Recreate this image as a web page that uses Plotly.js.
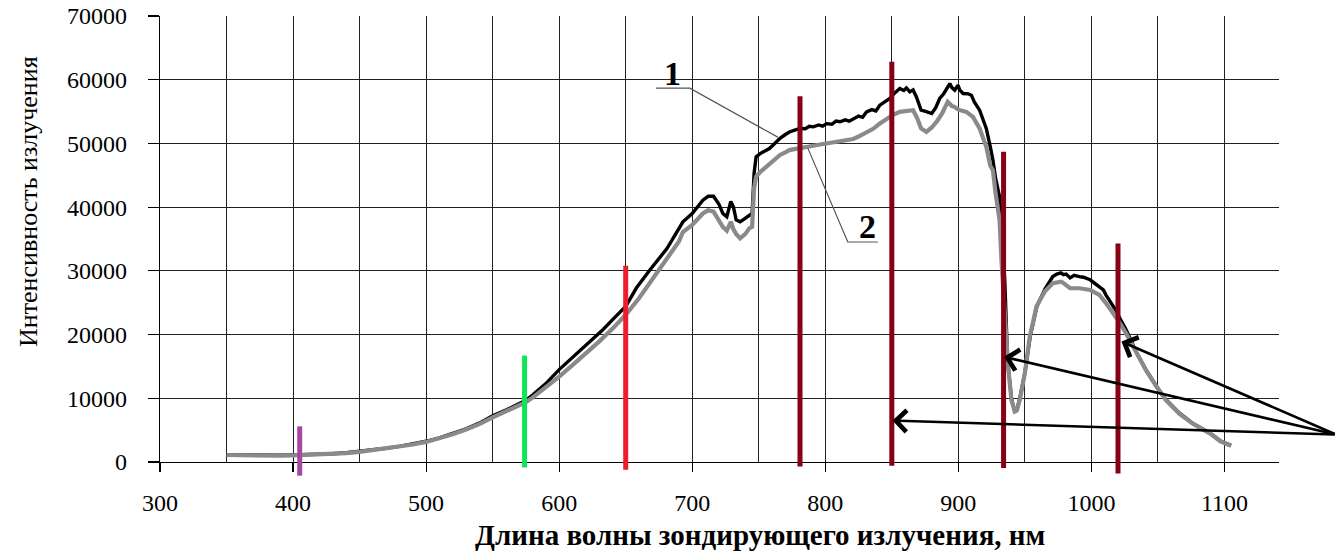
<!DOCTYPE html>
<html><head><meta charset="utf-8">
<script src="https://cdn.plot.ly/plotly-3.0.1.min.js"></script>
<style>html,body{margin:0;padding:0;background:#fff}#chart{width:1336px;height:552px}</style>
</head><body><div id="chart"></div>
<script>
// Curve 1 (black)
const wavelength1 = [350,360,370,380,390,400,410,420,430,440,450,460,470,480,490,500,510,520,530,540,550,560,570,575,580,590,600,610,618,625,633,640,650,658,668,681,693,700,708,712,716,720,723,726,729,731,733,736,740,743,745,746.5,748,751,755,758,762,766,770,773,777,781,785,788,791,795,798,801,805,808,811,815,818,821,825,828,831,835,838,841,845,848.5,852,856,859,861,863.5,866,868.5,870,872,876,880,883,886,889,891,893.6,895,897.3,899.8,901,903.6,907,909.8,912,916,918,921,924,926,928,931,933,935,937,940,942.5,944,946,950,954,959,965,968,971,974,977,979,981,984,987,991,994,999,1003,1006,1009,1011,1015,1019,1022,1026,1030,1034,1041,1049,1056,1066,1076,1089,1097,1105];
const intensity1 = [1150,1100,1050,1000,1050,1100,1150,1200,1300,1450,1650,1900,2150,2450,2800,3250,3800,4450,5200,6100,7250,8150,9200,9700,10500,12300,14500,16400,17900,19300,20800,22300,24400,27300,30100,33500,37700,39000,41100,41700,41700,40500,39000,38500,40900,40000,38000,37700,38300,38700,39000,45300,47900,48400,48800,49200,50000,50800,51400,51800,52100,52350,52300,52700,52600,52900,52700,53100,53000,53500,53400,53700,53500,53900,54300,54100,54950,55300,55100,56000,56600,57050,57900,58620,58300,58700,58090,58400,57300,56500,55220,55000,54700,55600,57050,57800,58600,59400,58800,58350,59140,58400,57840,57800,57570,56500,55220,54000,52350,49500,47380,44500,41630,36000,28000,16000,9800,7900,8300,9800,14000,19700,24400,27100,28000,29100,29500,29700,29400,29500,28900,29300,29100,29000,28600,28000,27500,27000,26200,25000,23600,22300,20800,19000,17100,14500,11850,9800,7700,6100,4550,3300,2600];
// Curve 2 (grey)
const wavelength2 = [350,360,370,380,390,400,410,420,430,440,450,460,470,480,490,500,510,520,530,540,550,560,570,575,580,590,600,610,620,630,640,650,660,670,680,690,693,700,708,712,716,720,723,726,729,731,733,736,740,743,745,746.5,748,751,755,758,762,766,770,773,777,781,786,790,795,801,806,811,816,821,826,831,836,841,846,851,856,861,866,869,872,876,880,884,888,892,895,897,900,906,911,916,921,924,926,928,931,932.4,934.9,937.4,939.9,942.4,944,946.2,950,953.7,958.7,964.9,971,977.5,984,991,999,1006,1011,1019,1026,1034,1041,1049,1056,1066,1076,1089,1097,1105];
const intensity2 = [1100,1050,1000,950,1000,1050,1100,1150,1250,1400,1600,1850,2100,2400,2750,3150,3700,4350,5100,5950,7000,7900,8900,9400,10100,11700,13400,15200,17000,18900,20900,23100,25700,28600,31500,34600,36100,37200,39000,39500,39300,38000,36900,36300,37700,36500,35800,35100,35800,36700,36900,43000,44770,45500,46200,46860,47500,48200,48600,48950,49100,49300,49470,49600,49800,50000,50100,50300,50520,50700,51200,51820,52300,53130,53800,54500,54950,55100,55220,54000,52350,51820,52500,53500,54800,56520,55900,55740,55300,54950,54170,52350,49470,46500,45810,42160,37980,31710,23870,14990,9760,7930,8100,9760,13950,19690,24400,26740,28060,28310,27270,27270,27010,26220,24920,22570,20220,17000,14400,11800,9700,7600,6050,4500,3250,2550];

// Probe wavelengths (vertical bars)
const laserWavelengths = [405, 574, 650, 781, 850, 934, 1020];
const laserTop = [5600, 16700, 30800, 57400, 62800, 48700, 34300];
const laserBottom = [-2150, -850, -1200, -700, -600, -950, -1800];
const laserColors = ['#a349a4', '#0ee35a', '#ee1c2c', '#880015', '#880015', '#880015', '#880015'];

// Arrows
const arrowTail = [1184, 4300];
const arrowTipX = [850.5, 934.3, 1022.6];
const arrowTipY = [6500, 16500, 18900];

// Curve labels and leader lines
const curveLabels = ['1', '2'];
const labelX = [685.1, 831.6];
const labelY = [60940, 36960];
const leaderX = [[672.7, 698.2, 764.3], [839.5, 816.9, 786.9]];
const leaderY = [[58670, 58670, 50990], [34530, 34530, 49260]];

const xTickVals = [300, 400, 500, 600, 700, 800, 900, 1000, 1100];
const yTickVals = [0, 10000, 20000, 30000, 40000, 50000, 60000, 70000];
const xRange = [300, 1141];
const yRange = [0, 70000];

const xTitle = 'Длина волны зондирующего излучения, нм';
const yTitle = 'Интенсивность излучения';

const serif = '"Liberation Serif", "Times New Roman", serif';
const H = 552, mt = 16, mb = 72;
const plotH = H - mt - mb;
const yDomLow = 18 / plotH;
const y2Min = -yRange[1] * yDomLow / (1 - yDomLow);

const traces = [
  {x: wavelength1, y: intensity1, type: 'scatter', mode: 'lines', line: {color: '#000', width: 3.4}, xaxis: 'x', yaxis: 'y', hoverinfo: 'skip'},
  {x: wavelength2, y: intensity2, type: 'scatter', mode: 'lines', line: {color: '#8a8a8a', width: 4.2}, xaxis: 'x', yaxis: 'y', hoverinfo: 'skip'}
];
laserWavelengths.forEach((w, i) => {
  traces.push({x: [w, w], y: [laserBottom[i], laserTop[i]], type: 'scatter', mode: 'lines',
    line: {color: laserColors[i], width: 5}, xaxis: 'x2', yaxis: 'y2', hoverinfo: 'skip'});
});

const annotations = [];
arrowTipX.forEach((x, i) => {
  annotations.push({x: x, y: arrowTipY[i], xref: 'x', yref: 'y', ax: arrowTail[0], ay: arrowTail[1],
    axref: 'x', ayref: 'y', text: '', showarrow: true, arrowhead: 4, arrowsize: 1.6, arrowwidth: 2.6,
    arrowcolor: '#000', standoff: 0, startstandoff: 0});
});
curveLabels.forEach((t, i) => {
  annotations.push({x: labelX[i], y: labelY[i], xref: 'x', yref: 'y', text: '<b>' + t + '</b>', showarrow: false,
    font: {family: serif, size: 34, color: '#000'}, xanchor: 'center', yanchor: 'middle'});
});
annotations.push({x: (760 - 160) / 1119, y: (H - mb - 535) / plotH, xref: 'paper', yref: 'paper', text: '<b>' + xTitle + '</b>',
  showarrow: false, font: {family: serif, size: 29, color: '#000'}, xanchor: 'center', yanchor: 'middle'});
annotations.push({x: 0, xshift: 28 - 160, y: (H - mb - 202) / plotH, xref: 'paper', yref: 'paper', text: yTitle, textangle: -90,
  showarrow: false, font: {family: serif, size: 26, color: '#000'}, xanchor: 'center', yanchor: 'middle'});

const shapes = leaderX.map((xs, i) => ({
  type: 'path', xref: 'x', yref: 'y', layer: 'above',
  path: xs.map((x, j) => (j ? 'L' : 'M') + x + ',' + leaderY[i][j]).join(' '),
  line: {color: '#555', width: 1.2}
}));

const layout = {
  width: 1336, height: H,
  margin: {l: 160, r: 57, t: mt, b: mb},
  paper_bgcolor: '#fff', plot_bgcolor: 'rgba(0,0,0,0)',
  showlegend: false,
  xaxis: {domain: [0, 1], range: xRange, anchor: 'y', tickvals: xTickVals, tickformat: 'd', ticks: 'outside', ticklen: 9, tickwidth: 1.2,
    tickcolor: '#000', showline: true, linecolor: '#000', linewidth: 1.3, showgrid: true, gridcolor: '#222', gridwidth: 1.1,
    minor: {dtick: 50, tick0: 0, showgrid: true, gridcolor: '#222', gridwidth: 1.1, ticks: ''},
    zeroline: false, tickfont: {family: serif, size: 24, color: '#000'}, ticklabelstandoff: 10, fixedrange: true},
  yaxis: {domain: [yDomLow, 1], range: yRange, anchor: 'x', tickvals: yTickVals, tickformat: 'd', ticks: 'outside', ticklen: 11, tickwidth: 1.2,
    tickcolor: '#000', showline: true, linecolor: '#000', linewidth: 1.3, showgrid: true, gridcolor: '#222', gridwidth: 1.1,
    zeroline: false, tickfont: {family: serif, size: 24, color: '#000'}, ticklabelstandoff: 16, fixedrange: true},
  xaxis2: {domain: [0, 1], range: xRange, anchor: 'y2', visible: false, showgrid: false, fixedrange: true},
  yaxis2: {domain: [0, 1], range: [y2Min, yRange[1]], anchor: 'x2', visible: false, showgrid: false, fixedrange: true},
  annotations: annotations,
  shapes: shapes
};

Plotly.newPlot('chart', traces, layout, {displayModeBar: false, staticPlot: true});
</script>
</body></html>
